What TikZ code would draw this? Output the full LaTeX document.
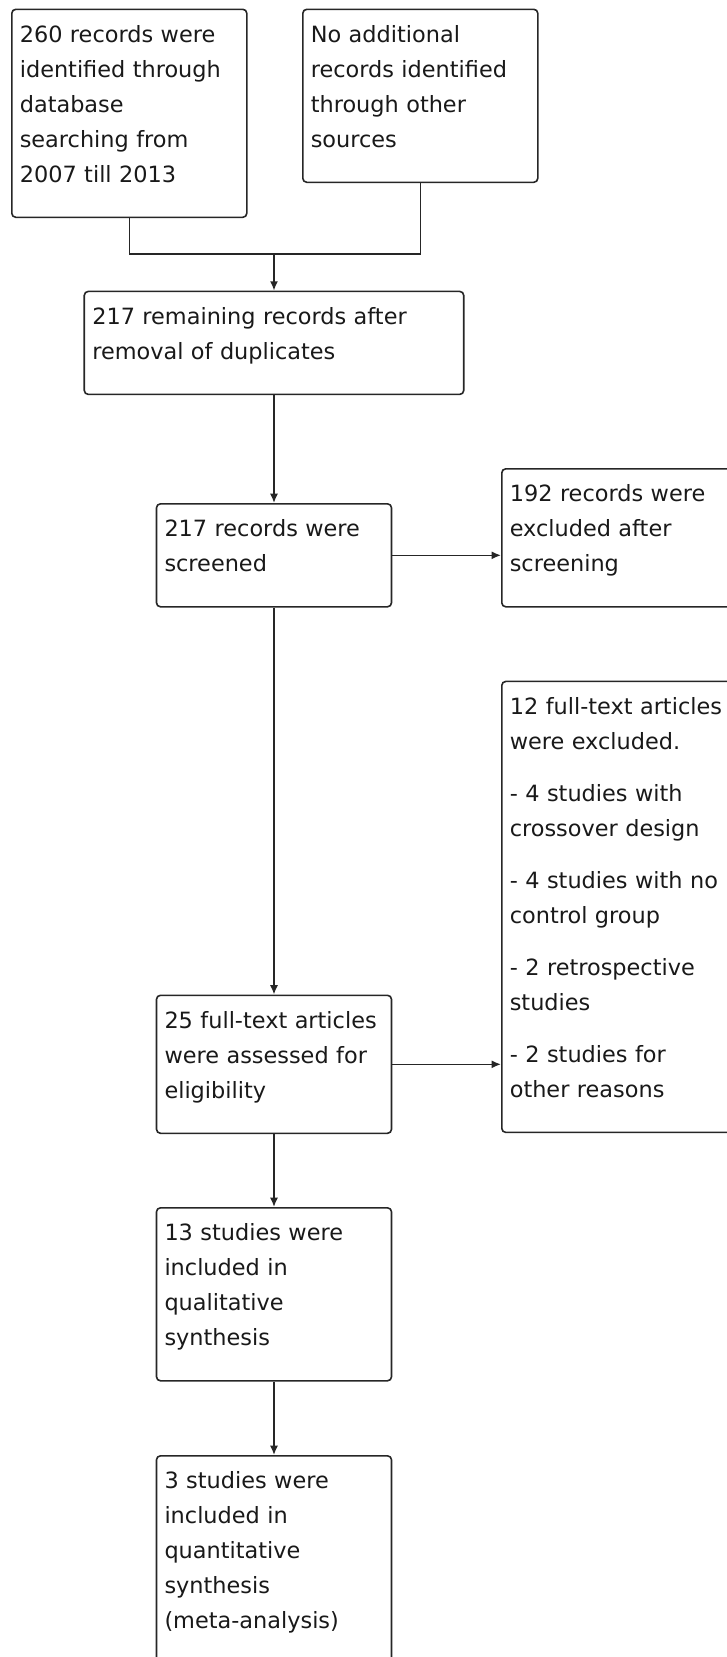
\documentclass[tikz,border=0pt]{standalone}
\usepackage{fontspec}
\setmainfont{DejaVu Sans}
\usetikzlibrary{arrows.meta}

\tikzset{
    box/.style = {draw=black!85, text=black!90, line width=1.2pt, rounded corners=3pt,
        align=left, text width=#1, inner xsep=6pt, inner ysep=0pt,
        font=\fontsize{16.8pt}{26.25pt}\selectfont,
        execute at begin node={\rule{0pt}{24.75pt}},
        execute at end node={\rule[-26.25pt]{0pt}{26.25pt}}},
    box/.default = 164.25pt,
    link/.style = {draw=black!85, line width=1.2pt},
    arrow/.style = {link, -{Latex[length=7pt,width=6pt]}}
}

\begin{document}
\begin{tikzpicture}[x=0.75pt, y=-0.75pt]
    \useasboundingbox (0,0) rectangle (726,1657);

    % identification
    \node[box, anchor=north west] (found) at (11,8.5) {260 records were\\identified through\\database\\searching from\\2007 till 2013};
    \node[box, anchor=north west] (other) at (302,8.5) {No additional\\records identified\\through other\\sources};

    % screening
    \node[box=272.6pt, anchor=north] (dedup) at (274,290.6) {217 remaining records after\\removal of duplicates};
    \node[box, anchor=north] (screen) at (274,503) {217 records were\\screened};
    \node[box=170pt, anchor=north west] (drop1) at (501,468) {192 records were\\excluded after\\screening};

    % eligibility
    \node[box=170pt, anchor=north west] (drop2) at (501,680.6) {12 full-text articles\\were excluded.\\[12.75pt]- 4 studies with\\crossover design\\[12.75pt]- 4 studies with no\\control group\\[12.75pt]- 2 retrospective\\studies\\[12.75pt]- 2 studies for\\other reasons};
    \node[box, anchor=north] (full) at (274,994.5) {25 full-text articles\\were assessed for\\eligibility};

    % included
    \node[box, anchor=north] (qual) at (274,1207) {13 studies were\\included in\\qualitative\\synthesis};
    \node[box, anchor=north] (quant) at (274,1455) {3 studies were\\included in\\quantitative\\synthesis\\(meta-analysis)};

    \coordinate (join) at (274,254);
    \draw[link] (found) |- (join);
    \draw[link] (other) |- (join);
    \draw[arrow] (join) -- (dedup);
    \draw[arrow] (dedup) -- (screen);
    \draw[arrow] (screen) -- (screen -| drop1.west);
    \draw[arrow] (screen) -- (full);
    \draw[arrow] (full) -- (full -| drop2.west);
    \draw[arrow] (full) -- (qual);
    \draw[arrow] (qual) -- (quant);
\end{tikzpicture}
\end{document}
